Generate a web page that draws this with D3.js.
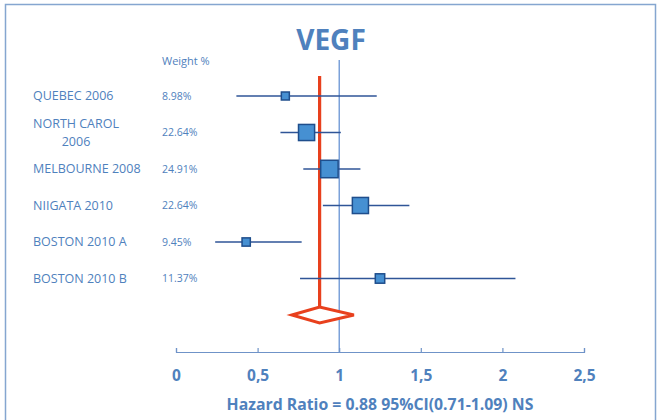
<!DOCTYPE html>
<html><head><meta charset="utf-8">
<script src="https://cdn.jsdelivr.net/npm/d3@7"></script>
<style>
html,body{margin:0;padding:0;background:#fff;}
svg{display:block;font-family:"Open Sans",sans-serif;}
</style></head>
<body>
<svg id="c" width="657" height="420"></svg>
<script>
// ---- data ----
const studies = ["QUEBEC 2006", "NORTH CAROL\n2006", "MELBOURNE 2008", "NIIGATA 2010", "BOSTON 2010 A", "BOSTON 2010 B"];
const weightLabels = ["8.98%", "22.64%", "24.91%", "22.64%", "9.45%", "11.37%"];
const weights = [8.98, 22.64, 24.91, 22.64, 9.45, 11.37];
const hr = [0.67, 0.80, 0.94, 1.13, 0.43, 1.25];
const ciLow = [0.37, 0.64, 0.78, 0.90, 0.24, 0.76];
const ciHigh = [1.23, 1.01, 1.13, 1.43, 0.77, 2.08];
const pooled = {hr: 0.88, lo: 0.71, hi: 1.09};
const xTicks = [0, 0.5, 1, 1.5, 2, 2.5];
const xTickLabels = ["0", "0,5", "1", "1,5", "2", "2,5"];
const title = "VEGF";
const weightHeader = "Weight %";
const caption = "Hazard Ratio = 0.88 95%CI(0.71-1.09) NS";

// ---- styles ----
const TXT = "#4f81bd", LINE = "#2f5597", FILL = "#4690d2", EDGE = "#1f4e8c", RED = "#e8401d", FRAME = "#85a6d0";

const svg = d3.select("#c");
const x = d3.scaleLinear().domain([0, 2.5]).range([176, 584]);
const y = d3.scalePoint().domain([...studies, "__pooled"]).range([96, 315]);
const size = d3.scaleLinear().domain([9, 25]).range([8, 17.5]);
const axisY = 352;

// frame
svg.append("path").attr("d", "M5.5,420V4.5H655.5V420").attr("fill", "none").attr("stroke", FRAME).attr("stroke-width", 1.5);

// title
svg.append("text").attr("x", 331).attr("y", 50).attr("text-anchor", "middle")
  .attr("font-size", 28).attr("font-weight", "bold").attr("fill", TXT).text(title);

// header
svg.append("text").attr("x", 162).attr("y", 65).attr("font-size", 11).attr("fill", TXT).text(weightHeader);

// null line at 1
svg.append("line").attr("x1", x(1)).attr("x2", x(1)).attr("y1", 60).attr("y2", axisY)
  .attr("stroke", "#5b8ad0").attr("stroke-width", 1.2);

// axis
const axis = d3.axisBottom(x).tickValues(xTicks).tickFormat((d, i) => xTickLabels[i])
  .tickSizeInner(-4).tickSizeOuter(-4).tickPadding(18);
const ag = svg.append("g").attr("transform", `translate(0,${axisY})`).call(axis);
ag.select(".domain").attr("stroke", "#6f93c8").attr("stroke-width", 1.2);
ag.selectAll(".tick line").attr("stroke", "#6f93c8").attr("stroke-width", 1.2);
ag.selectAll(".tick text").attr("fill", TXT).attr("font-size", 15.5).attr("font-weight", "bold")
  .attr("font-family", "Open Sans, sans-serif");

// caption
svg.append("text").attr("x", 380).attr("y", 410).attr("text-anchor", "middle")
  .attr("font-size", 15.8).attr("font-weight", "bold").attr("fill", TXT).text(caption);

// pooled red line and diamond
const py = y("__pooled");
const dh = 8;
svg.append("line").attr("x1", x(pooled.hr)).attr("x2", x(pooled.hr)).attr("y1", 76).attr("y2", py - dh)
  .attr("stroke", RED).attr("stroke-width", 3.2);
svg.append("path")
  .attr("d", `M${x(pooled.lo)},${py}L${x(pooled.hr)},${py - dh}L${x(pooled.hi)},${py}L${x(pooled.hr)},${py + dh}Z`)
  .attr("fill", "#fff").attr("stroke", RED).attr("stroke-width", 3).attr("stroke-linejoin", "miter");

// rows
const rows = studies.map((s, i) => ({s, w: weights[i], wl: weightLabels[i], hr: hr[i], lo: ciLow[i], hi: ciHigh[i]}));
const g = svg.append("g").selectAll("g").data(rows).join("g");
g.append("line").attr("x1", d => x(d.lo)).attr("x2", d => x(d.hi))
  .attr("y1", d => y(d.s)).attr("y2", d => y(d.s)).attr("stroke", LINE).attr("stroke-width", 1.5);
g.append("rect")
  .attr("x", d => x(d.hr) - size(d.w) / 2).attr("y", d => y(d.s) - size(d.w) / 2)
  .attr("width", d => size(d.w)).attr("height", d => size(d.w))
  .attr("fill", FILL).attr("stroke", EDGE).attr("stroke-width", 1.5);
g.append("text").attr("x", 162).attr("y", d => y(d.s)).attr("dy", "0.35em")
  .attr("font-size", 10.5).attr("fill", TXT).text(d => d.wl);
g.each(function(d) {
  const lines = d.s.split("\n");
  const t = d3.select(this).append("text").attr("fill", TXT).attr("font-size", 12.5);
  if (lines.length === 1) {
    t.attr("x", 33).attr("y", y(d.s)).attr("dy", "0.35em").text(d.s);
  } else {
    t.attr("text-anchor", "middle");
    lines.forEach((l, k) => t.append("tspan").attr("x", 76)
      .attr("y", y(d.s) + (k - (lines.length - 1) / 2) * 18).attr("dy", "0.35em").text(l));
  }
});
</script>
</body></html>
